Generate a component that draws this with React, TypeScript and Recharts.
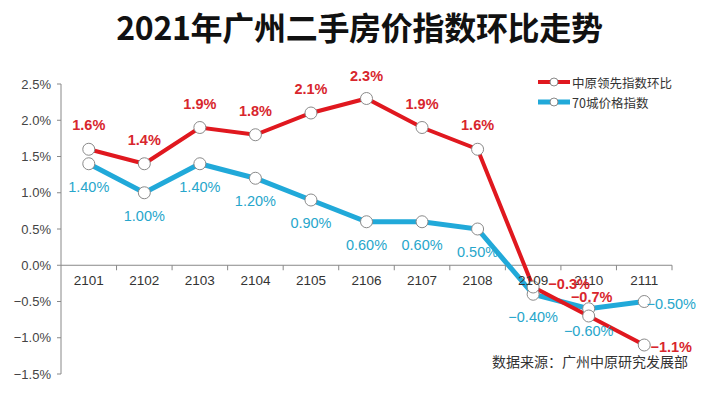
import { LineChart, Line, XAxis, YAxis, ReferenceLine, LabelList } from "recharts";

const months = ["2101", "2102", "2103", "2104", "2105", "2106", "2107", "2108", "2109", "2110", "2111"];
const zhongyuan = [1.6, 1.4, 1.9, 1.8, 2.1, 2.3, 1.9, 1.6, -0.3, -0.7, -1.1];
const city70 = [1.4, 1.0, 1.4, 1.2, 0.9, 0.6, 0.6, 0.5, -0.4, -0.6, -0.5];
const yTicks = [-1.5, -1.0, -0.5, 0, 0.5, 1.0, 1.5, 2.0, 2.5];

const data = months.map((m, i) => ({ month: m, zy: zhongyuan[i], c70: city70[i] }));

const W = 715;
const H = 393;
const TOP = 84;
const BOTTOM = 19;
const LEFT = 61;
const RIGHT = 43;
const PLOT_W = W - LEFT - RIGHT;
const PLOT_H = H - TOP - BOTTOM;
const BW = PLOT_W / months.length;
const Y_MIN = -1.5;
const Y_MAX = 2.5;
// distance from plot bottom up to the zero line
const ZERO_UP = (PLOT_H * (0 - Y_MIN)) / (Y_MAX - Y_MIN);

const RED = "#e0181f";
const BLUE = "#21a9d9";
const RED_TEXT = "#d8262d";
const BLUE_TEXT = "#27a6cb";
const NUM_FONT = "'Liberation Sans', Arial, sans-serif";

// label offsets relative to the point
const redOffsets = [
  [0, -24], [0, -24], [0, -24], [0, -24], [0, -24], [0, -23], [0, -24], [0, -24],
  [36, -3], [3, -19], [27, 2],
];
const blueOffsets = [
  [0, 23], [0, 23], [0, 23], [0, 23], [0, 23], [0, 23], [0, 23], [0, 23],
  [0, 23], [0, 22], [27, 2],
];

const fmtPct = (v: number, d: number) => (v < 0 ? "−" : "") + Math.abs(v).toFixed(d) + "%";

const makeLabel = (offsets: number[][], color: string, digits: number, weight: number) => (props: any) => {
  const { x, y, value, index } = props;
  const [dx, dy] = offsets[index] || [0, 0];
  return (
    <text
      x={x + dx}
      y={y + dy}
      textAnchor="middle"
      dominantBaseline="central"
      fill={color}
      fontSize={14.5}
      fontWeight={weight}
      fontFamily={NUM_FONT}
    >
      {fmtPct(value, digits)}
    </text>
  );
};

const XTick = (props: any) => {
  const { x, y, payload } = props;
  const zy = y - ZERO_UP;
  return (
    <g>
      <line x1={x + BW / 2} x2={x + BW / 2} y1={zy} y2={zy + 5} stroke="#888" />
      <text x={x} y={zy + 15} textAnchor="middle" dominantBaseline="central" fill="#333" fontSize={13.5} fontFamily={NUM_FONT}>
        {payload.value}
      </text>
    </g>
  );
};

const dotStyle = { r: 6, fill: "#fff", stroke: "#8a8a8a", strokeWidth: 1 };

const LegendRow = ({ color, label, width }: { color: string; label: string; width: number }) => (
  <div style={{ display: "flex", alignItems: "center", height: 20 }}>
    <svg width={34} height={14}>
      <line x1={1} x2={33} y1={7} y2={7} stroke={color} strokeWidth={width} />
      <circle cx={17} cy={7} r={4} fill="#fff" stroke="#8a8a8a" strokeWidth={1} />
    </svg>
    <span style={{ fontSize: 12.5, color: "#333", marginLeft: 1 }}>{label}</span>
  </div>
);

export default function App() {
  return (
    <div
      style={{
        position: "absolute",
        left: 0,
        top: 0,
        width: W,
        height: H,
        background: "#fff",
        fontFamily: "'Noto Sans CJK SC', 'Noto Sans', sans-serif",
      }}
    >
      <div
        style={{
          position: "absolute",
          left: 0,
          top: 5,
          width: W + 4,
          textAlign: "center",
          fontSize: 32,
          fontWeight: 700,
          color: "#111",
          lineHeight: "42px",
          letterSpacing: -0.3,
        }}
      >
        2021年广州二手房价指数环比走势
      </div>
      <LineChart width={W} height={H} data={data} margin={{ top: TOP, right: RIGHT, bottom: 0, left: 0 }}>
        <XAxis
          dataKey="month"
          height={BOTTOM}
          axisLine={false}
          tickLine={false}
          tickSize={0}
          tickMargin={0}
          tick={<XTick />}
          interval={0}
          padding={{ left: BW / 2, right: BW / 2 }}
        />
        <YAxis
          width={LEFT}
          domain={[Y_MIN, Y_MAX]}
          ticks={yTicks}
          interval={0}
          tickSize={4}
          tickMargin={6}
          stroke="#888"
          tick={{ fill: "#444", fontSize: 13, fontFamily: NUM_FONT }}
          tickFormatter={(v: number) => fmtPct(v, 1)}
        />
        <ReferenceLine y={0} stroke="#888" strokeWidth={1} />
        <Line
          dataKey="c70"
          stroke={BLUE}
          strokeWidth={5}
          dot={dotStyle}
          activeDot={false}
          isAnimationActive={false}
        >
          <LabelList dataKey="c70" content={makeLabel(blueOffsets, BLUE_TEXT, 2, 500)} />
        </Line>
        <Line
          dataKey="zy"
          stroke={RED}
          strokeWidth={4}
          dot={dotStyle}
          activeDot={false}
          isAnimationActive={false}
        >
          <LabelList dataKey="zy" content={makeLabel(redOffsets, RED_TEXT, 1, 700)} />
        </Line>
      </LineChart>
      <div style={{ position: "absolute", left: 492, top: 351, fontSize: 14, color: "#333", whiteSpace: "nowrap" }}>
        数据来源：广州中原研究发展部
      </div>
      <div style={{ position: "absolute", left: 537, top: 72 }}>
        <LegendRow color={RED} label="中原领先指数环比" width={4} />
        <LegendRow color={BLUE} label="70城价格指数" width={5} />
      </div>
    </div>
  );
}
